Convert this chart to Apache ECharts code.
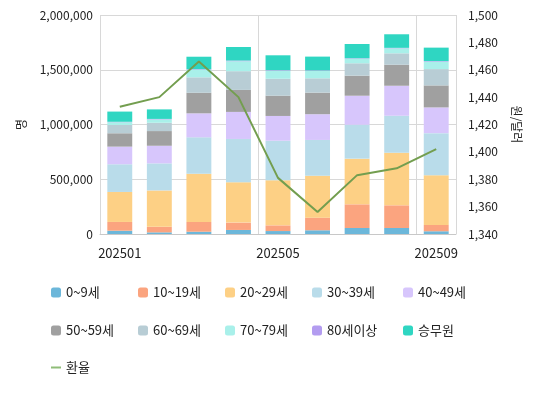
<!DOCTYPE html>
<html><head><meta charset="utf-8">
<script src="https://cdn.jsdelivr.net/npm/echarts@6/dist/echarts.min.js"></script>
<style>html,body{margin:0;padding:0;background:#fff}#c{width:538px;height:400px}</style>
</head><body><div id="c"></div>
<script>
const categories = ['202501','202502','202503','202504','202505','202506','202507','202508','202509'];
const age0_9   = [30000, 15000, 21000, 37000, 27000, 34000, 55000, 55000, 25000];
const age10_19 = [80000, 51000, 89000, 67000, 52000, 115000, 216000, 207000, 58000];
const age20_29 = [274000, 332000, 441000, 369000, 411000, 384000, 417000, 480000, 454000];
const age30_39 = [253000, 247000, 332000, 395000, 362000, 326000, 310000, 338000, 384000];
const age40_49 = [161000, 161000, 219000, 247000, 226000, 235000, 265000, 274000, 235000];
const age50_59 = [122000, 134000, 188000, 201000, 185000, 197000, 183000, 192000, 201000];
const age60_69 = [76000, 76000, 141000, 171000, 155000, 131000, 113000, 104000, 149000];
const age70_79 = [25000, 31000, 69000, 91000, 73000, 67000, 42000, 46000, 68000];
const age80    = [4000, 4000, 5000, 6000, 5000, 5000, 4000, 4000, 5000];
const crew     = [93000, 87000, 114000, 124000, 136000, 126000, 130000, 124000, 123000];
const fxRate   = [1433, 1440, 1466, 1440, 1381, 1356, 1383, 1388, 1402];
const leftTicks = {min: 0, max: 2000000, interval: 500000};
const rightTicks = {min: 1340, max: 1500, interval: 20};

const seriesDefs = [
  ['0~9세', age0_9, '#6cb7da'],
  ['10~19세', age10_19, '#fba47f'],
  ['20~29세', age20_29, '#fdd085'],
  ['30~39세', age30_39, '#b9dcea'],
  ['40~49세', age40_49, '#d7c6fc'],
  ['50~59세', age50_59, '#a0a0a0'],
  ['60~69세', age60_69, '#b8cdd5'],
  ['70~79세', age70_79, '#a9f0ea'],
  ['80세이상', age80, '#b39cf0'],
  ['승무원', crew, '#2fd6c2']
];
const font = '"Noto Sans CJK KR", "Noto Sans", sans-serif';
const series = seriesDefs.map(([name, data, color]) => ({
  name, type: 'bar', stack: 'total', data, barCategoryGap: '37%',
  itemStyle: {color}, yAxisIndex: 0
}));
series.push({
  name: '환율', type: 'line', data: fxRate, yAxisIndex: 1, symbol: 'none',
  lineStyle: {color: '#739e4f', width: 2}, itemStyle: {color: '#8fbd78'}, z: 10
});
const colLeft = [51, 138, 225, 312, 403];
const rowTop = [286, 324, 361];
const legendBase = {
  padding: 0, orient: 'horizontal', itemWidth: 10, itemHeight: 10, itemGap: 10,
  icon: 'roundRect', selectedMode: false,
  textStyle: {fontFamily: font, fontSize: 13, color: '#222'}
};
const legends = seriesDefs.map((d, i) => Object.assign({}, legendBase, {
  left: colLeft[i % 5], top: rowTop[Math.floor(i / 5)], data: [d[0]]
}));
legends.push(Object.assign({}, legendBase, {left: colLeft[0], top: rowTop[2], itemHeight: 2,
  data: [{name: '환율', icon: 'rect'}]}));
const option = {
  animation: false,
  textStyle: {fontFamily: font},
  grid: {left: 100, right: 82, top: 15, bottom: 166, containLabel: false},
  legend: legends,
  xAxis: {
    type: 'category', data: categories,
    axisLine: {lineStyle: {color: '#c8c8c8'}},
    axisTick: {show: false, interval: 3},
    axisLabel: {interval: 3, color: '#222', fontSize: 13, margin: 13, fontFamily: font},
    splitLine: {show: true, interval: 3, lineStyle: {color: '#d8d8d8'}}
  },
  yAxis: [
    {
      type: 'value', min: leftTicks.min, max: leftTicks.max, interval: leftTicks.interval,
      name: '명', nameLocation: 'middle', nameGap: 73, nameRotate: 90,
      nameTextStyle: {color: '#222', fontSize: 12, fontFamily: font},
      axisLabel: {color: '#222', fontSize: 12, margin: 7, fontFamily: font,
        formatter: v => v.toLocaleString('en-US')},
      axisLine: {show: false}, axisTick: {show: false},
      splitLine: {lineStyle: {color: '#d8d8d8'}}
    },
    {
      type: 'value', min: rightTicks.min, max: rightTicks.max, interval: rightTicks.interval,
      name: '원/달러', nameLocation: 'middle', nameGap: 55, nameRotate: -90,
      nameTextStyle: {color: '#222', fontSize: 12, fontFamily: font},
      axisLabel: {color: '#222', fontSize: 12, margin: 12, fontFamily: font,
        formatter: v => v.toLocaleString('en-US')},
      axisLine: {show: false}, axisTick: {show: false},
      splitLine: {show: false}
    }
  ],
  series
};
const chart = echarts.init(document.getElementById('c'));
chart.setOption(option);
</script></body></html>
